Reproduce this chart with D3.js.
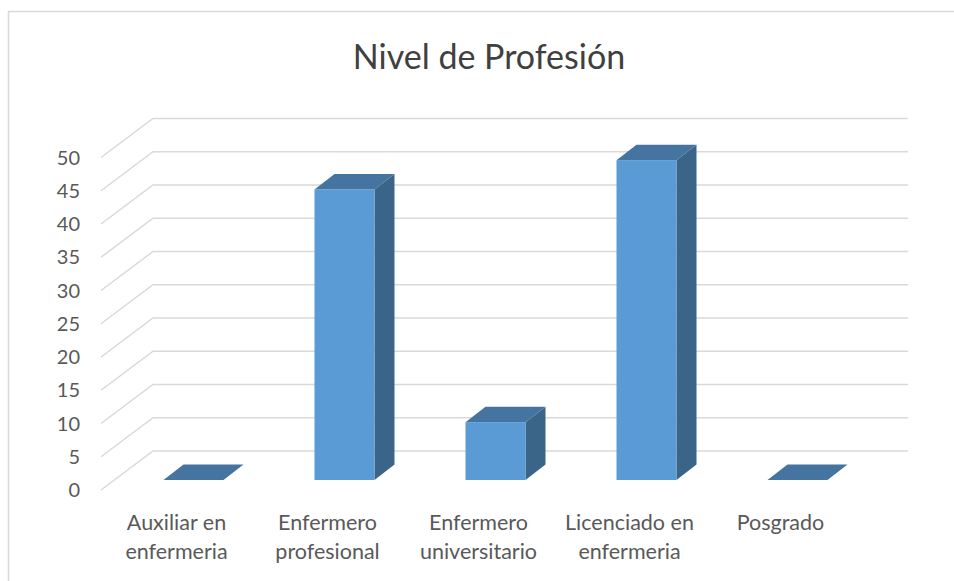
<!DOCTYPE html>
<html>
<head>
<meta charset="utf-8">
<script src="https://cdn.jsdelivr.net/npm/d3@7"></script>
<style>
  html, body { margin: 0; padding: 0; background: #fff; }
  svg { display: block; font-family: Lato, "Open Sans", sans-serif; }
</style>
</head>
<body>
<svg id="chart" width="954" height="581"></svg>
<script>
const title = "Nivel de Profesión";
const categories = [
  ["Auxiliar en", "enfermeria"],
  ["Enfermero", "profesional"],
  ["Enfermero", "universitario"],
  ["Licenciado en", "enfermeria"],
  ["Posgrado"]
];
const values = [0, 43.7, 8.7, 48.1, 0];
const yTicks = [0, 5, 10, 15, 20, 25, 30, 35, 40, 45, 50];

const svg = d3.select("#chart");
const W = 954, H = 581;

// chart border
svg.append("rect").attr("x", 8.5).attr("y", 11.5).attr("width", W).attr("height", H)
  .attr("fill", "#fff").attr("stroke", "#d9d9d9").attr("stroke-width", 1.5);

// title
svg.append("text").attr("x", 489).attr("y", 69).attr("text-anchor", "middle")
  .attr("font-size", 34).attr("fill", "#404040").text(title);

// scales (front plane of floor)
const x = d3.scaleBand().domain(d3.range(categories.length)).range([101, 856]);
const y = d3.scaleLinear().domain([0, 50]).range([490, 157.5]);

// projection vectors
const floorDepth = [52, -39];
const barFront = [17, -10];
const barDepth = [20, -15.5];
const barW = 60;

// gridlines
const grid = svg.append("g");
yTicks.forEach(t => {
  const y0 = y(t);
  grid.append("path")
    .attr("d", `M${x.range()[0]},${y0} L${x.range()[0] + floorDepth[0]},${y0 + floorDepth[1]} L${x.range()[1] + floorDepth[0]},${y0 + floorDepth[1]}`)
    .attr("fill", "none").attr("stroke", "#d9d9d9").attr("stroke-width", 1.5);
});

// y tick labels
svg.append("g").selectAll("text").data(yTicks).join("text")
  .attr("x", 80).attr("y", d => y(d)).attr("dy", "0.36em")
  .attr("text-anchor", "end").attr("font-size", 20).attr("fill", "#595959")
  .text(d => d);

// bars
const bars = svg.append("g");
values.forEach((v, i) => {
  const cx = x(i) + x.bandwidth() / 2 + barFront[0];
  const x0 = cx - barW / 2, x1 = cx + barW / 2;
  const yb = y(0) + barFront[1];
  const yt = yb - (y(0) - y(v));
  const [dx, dy] = barDepth;
  if (v > 0) {
    bars.append("path")
      .attr("d", `M${x1},${yb} L${x1 + dx},${yb + dy} L${x1 + dx},${yt + dy} L${x1},${yt} Z`)
      .attr("fill", "#3a6588");
  }
  bars.append("path")
    .attr("d", `M${x0},${yt} L${x1},${yt} L${x1 + dx},${yt + dy} L${x0 + dx},${yt + dy} Z`)
    .attr("fill", "#44749f");
  if (v > 0) {
    bars.append("rect").attr("x", x0).attr("y", yt).attr("width", barW).attr("height", yb - yt)
      .attr("fill", "#5b9bd5");
  }
});

// category labels
const cat = svg.append("g");
categories.forEach((lines, i) => {
  const t = cat.append("text").attr("text-anchor", "middle").attr("font-size", 21.5).attr("fill", "#595959");
  lines.forEach((ln, j) => {
    t.append("tspan").attr("x", x(i) + x.bandwidth() / 2).attr("y", 530 + j * 29).text(ln);
  });
});
</script>
</body>
</html>
